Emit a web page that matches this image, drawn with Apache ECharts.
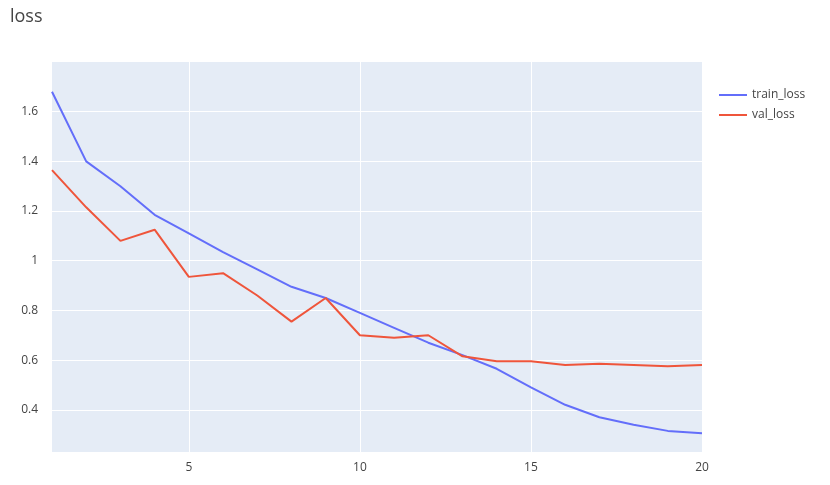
<!DOCTYPE html>
<html>
<head>
<meta charset="utf-8">
<script src="https://cdn.jsdelivr.net/npm/echarts@6/dist/echarts.min.js"></script>
<style>html,body{margin:0;padding:0;background:#fff}#c{width:830px;height:485px}</style>
</head>
<body>
<div id="c"></div>
<script>
let epochs = [1,2,3,4,5,6,7,8,9,10,11,12,13,14,15,16,17,18,19,20];
let train_loss = [1.68,1.40,1.30,1.185,1.11,1.035,0.965,0.895,0.85,0.79,0.73,0.67,0.62,0.565,0.49,0.42,0.37,0.34,0.315,0.305];
let val_loss = [1.365,1.215,1.08,1.125,0.935,0.95,0.86,0.755,0.85,0.70,0.69,0.70,0.615,0.595,0.595,0.58,0.585,0.58,0.575,0.58];
let xTicks = [5,10,15,20];
let yTicks = [0.4,0.6,0.8,1,1.2,1.4,1.6];

let pairs = arr => arr.map((v, i) => [epochs[i], v]);
let myChart = echarts.init(document.getElementById("c"));
let lbl = {color: "#444", fontSize: 12, fontFamily: "Open Sans"};
myChart.setOption({
    animation: false,
    title: {text: "loss", left: 5, top: 3, textStyle: {color: "#444", fontSize: 18, fontWeight: "normal", fontFamily: "Open Sans"}},
    legend: {
        orient: "vertical", left: 714, top: 84, itemGap: 8, itemWidth: 28, itemHeight: 2,
        icon: "rect",
        textStyle: lbl,
        data: ["train_loss", "val_loss"]
    },
    grid: {left: 52, right: 128, top: 62, bottom: 33, backgroundColor: "#E5ECF6", show: true, borderWidth: 0},
    xAxis: {
        type: "value", min: 1, max: 20,
        axisLine: {show: false}, axisTick: {show: false, customValues: xTicks},
        axisLabel: Object.assign({customValues: xTicks, margin: 10}, lbl),
        splitLine: {show: true, lineStyle: {color: "#fff", width: 1}}
    },
    yAxis: {
        type: "value", min: 0.23, max: 1.8,
        axisLine: {show: false}, axisTick: {show: false, customValues: yTicks},
        axisLabel: Object.assign({customValues: yTicks, margin: 14}, lbl),
        splitLine: {show: true, lineStyle: {color: "#fff", width: 1}}
    },
    series: [
        {name: "train_loss", type: "line", data: pairs(train_loss), showSymbol: false, color: "#636EFA", lineStyle: {width: 2}},
        {name: "val_loss", type: "line", data: pairs(val_loss), showSymbol: false, color: "#EF553B", lineStyle: {width: 2}}
    ]
});
</script>
</body>
</html>
